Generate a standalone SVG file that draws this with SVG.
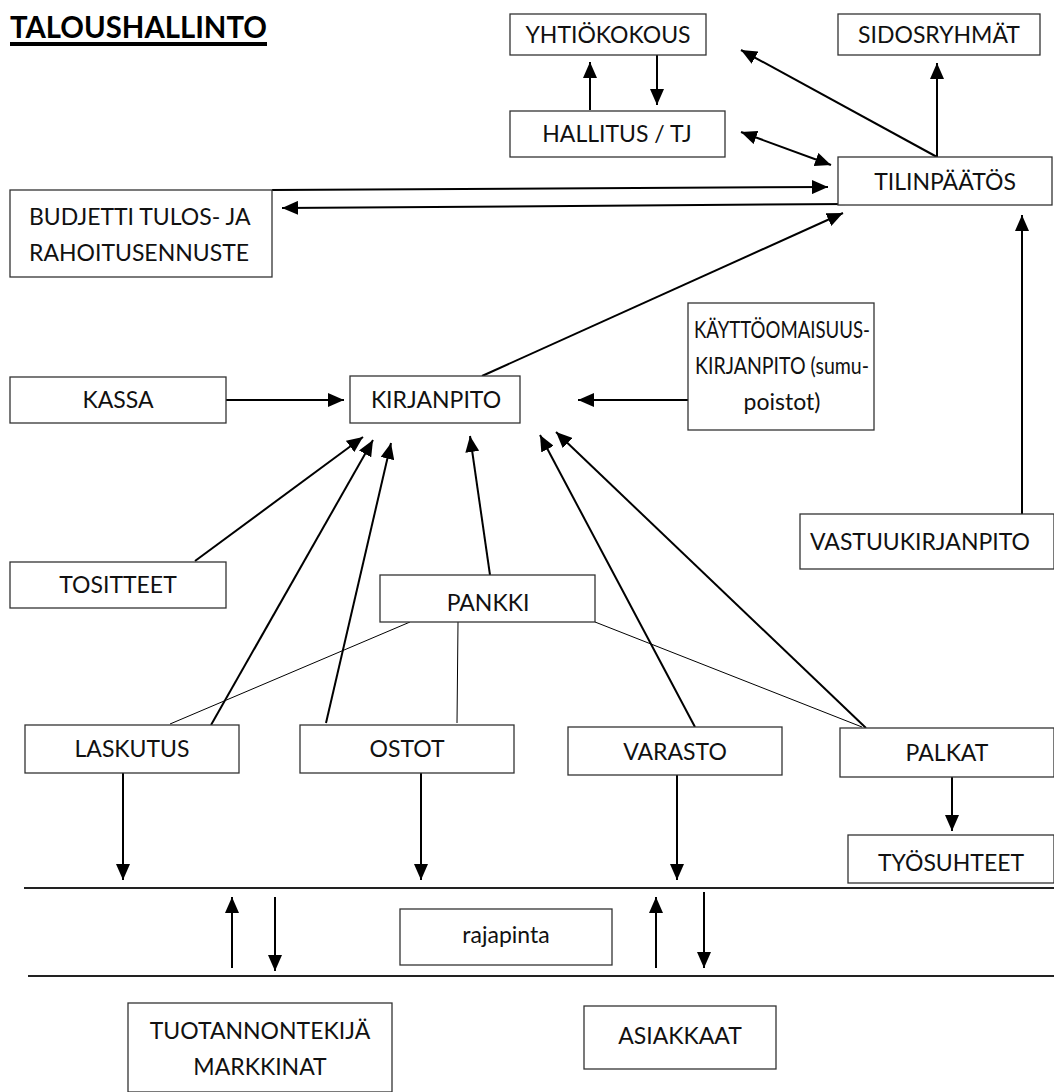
<svg xmlns="http://www.w3.org/2000/svg" width="1054" height="1092" viewBox="0 0 1054 1092">
<style>
.box{fill:#fff;stroke:#333;stroke-width:1.3}
.t{font-family:Lato,"Noto Sans",sans-serif;font-size:23px;fill:#111;text-anchor:middle}
.tl{font-family:Lato,"Noto Sans",sans-serif;font-size:23px;fill:#111}
.a{stroke:#000;stroke-width:2;fill:none;marker-end:url(#ah)}
.ln{stroke:#000;stroke-width:1;fill:none}
.hl{stroke:#222;stroke-width:2;fill:none}
</style>
<defs>
<marker id="ah" markerUnits="userSpaceOnUse" markerWidth="16" markerHeight="14" refX="16" refY="7" orient="auto-start-reverse" viewBox="0 0 16 14">
<path d="M0,0 L16,7 L0,14 Z" fill="#000"/>
</marker>
</defs>
<rect width="1054" height="1092" fill="#fff"/>
<g id="title">
<text x="10" y="38" font-family="Lato,'Noto Sans',sans-serif" font-size="30" font-weight="bold" fill="#000" textLength="257" lengthAdjust="spacingAndGlyphs">TALOUSHALLINTO</text>
<rect x="10" y="42" width="257" height="4" fill="#000"/>
</g>
<g id="connectors">
<line class="a" x1="590" y1="110" x2="590" y2="62"/>
<line class="a" x1="657" y1="55" x2="657" y2="105"/>
<line class="a" x1="937" y1="157" x2="741" y2="50"/>
<line class="a" x1="937" y1="157" x2="937" y2="63"/>
<line class="a" x1="741" y1="132" x2="831" y2="165" marker-start="url(#ah)"/>
<line class="a" x1="272" y1="190" x2="828" y2="187"/>
<line class="a" x1="850" y1="204" x2="282" y2="208"/>
<line class="a" x1="482" y1="376" x2="843" y2="213"/>
<line class="a" x1="1022" y1="514" x2="1022" y2="215"/>
<line class="a" x1="226" y1="400" x2="344" y2="400"/>
<line class="a" x1="688" y1="400" x2="578" y2="400"/>
<line class="a" x1="195" y1="561" x2="363" y2="437"/>
<line class="a" x1="211" y1="725" x2="373" y2="440"/>
<line class="a" x1="326" y1="723" x2="391" y2="443"/>
<line class="a" x1="490" y1="575" x2="470" y2="436"/>
<line class="a" x1="695" y1="727" x2="540" y2="435"/>
<line class="a" x1="866" y1="728" x2="556" y2="432"/>
<line class="ln" x1="410" y1="622" x2="170" y2="724"/>
<line class="ln" x1="458" y1="622" x2="457" y2="723"/>
<line class="ln" x1="595" y1="622" x2="862" y2="727"/>
<line class="a" x1="123" y1="773" x2="123" y2="880"/>
<line class="a" x1="421" y1="773" x2="421" y2="880"/>
<line class="a" x1="677" y1="775" x2="677" y2="880"/>
<line class="a" x1="952" y1="777" x2="952" y2="831"/>
<line class="hl" x1="24" y1="888" x2="1054" y2="888"/>
<line class="hl" x1="28" y1="976" x2="1054" y2="976"/>
<line class="a" x1="232" y1="968" x2="232" y2="897"/>
<line class="a" x1="275" y1="897" x2="275" y2="971"/>
<line class="a" x1="656" y1="968" x2="656" y2="897"/>
<line class="a" x1="704" y1="892" x2="704" y2="968"/>
</g>
<g id="yhtiokokous"><rect class="box" x="510" y="14" width="196" height="41"/><text class="t" x="608" y="43">YHTIÖKOKOUS</text></g>
<g id="sidosryhmat"><rect class="box" x="838" y="14" width="202" height="41"/><text class="t" x="939" y="43">SIDOSRYHMÄT</text></g>
<g id="hallitus"><rect class="box" x="510" y="111" width="215" height="46"/><text class="t" x="617" y="142">HALLITUS / TJ</text></g>
<g id="tilinpaatos"><rect class="box" x="838" y="157" width="214" height="48"/><text class="t" x="945" y="190">TILINPÄÄTÖS</text></g>
<g id="budjetti"><rect class="box" x="10" y="190" width="262" height="87"/><text class="tl" x="29" y="225">BUDJETTI TULOS- JA</text><text class="tl" x="29" y="261">RAHOITUSENNUSTE</text></g>
<g id="kayttoomaisuus"><rect class="box" x="688" y="303" width="186" height="127"/><text class="t" x="782" y="338" font-size="21" textLength="176" lengthAdjust="spacingAndGlyphs">KÄYTTÖOMAISUUS-</text><text class="t" x="782" y="374" font-size="21" textLength="174" lengthAdjust="spacingAndGlyphs">KIRJANPITO (sumu-</text><text class="t" x="782" y="410" font-size="22">poistot)</text></g>
<g id="kassa"><rect class="box" x="10" y="377" width="216" height="46"/><text class="t" x="118" y="408">KASSA</text></g>
<g id="kirjanpito"><rect class="box" x="350" y="376" width="170" height="47"/><text class="t" x="436" y="408">KIRJANPITO</text></g>
<g id="vastuukirjanpito"><rect class="box" x="800" y="514" width="254" height="55"/><text class="t" x="920" y="550">VASTUUKIRJANPITO</text></g>
<g id="tositteet"><rect class="box" x="10" y="562" width="216" height="46"/><text class="t" x="118" y="593">TOSITTEET</text></g>
<g id="pankki"><rect class="box" x="380" y="575" width="215" height="47"/><text class="t" x="488" y="611">PANKKI</text></g>
<g id="laskutus"><rect class="box" x="25" y="725" width="214" height="48"/><text class="t" x="132" y="757">LASKUTUS</text></g>
<g id="ostot"><rect class="box" x="300" y="725" width="214" height="48"/><text class="t" x="407" y="757">OSTOT</text></g>
<g id="varasto"><rect class="box" x="568" y="727" width="214" height="48"/><text class="t" x="675" y="760">VARASTO</text></g>
<g id="palkat"><rect class="box" x="840" y="728" width="214" height="49"/><text class="t" x="947" y="761">PALKAT</text></g>
<g id="tyosuhteet"><rect class="box" x="848" y="835" width="206" height="48"/><text class="t" x="951" y="871">TYÖSUHTEET</text></g>
<g id="rajapinta"><rect class="box" x="400" y="909" width="212" height="56"/><text class="t" x="506" y="943">rajapinta</text></g>
<g id="tuotannontekija"><rect class="box" x="128" y="1003" width="264" height="89"/><text class="t" x="260" y="1039">TUOTANNONTEKIJÄ</text><text class="t" x="260" y="1075">MARKKINAT</text></g>
<g id="asiakkaat"><rect class="box" x="584" y="1006" width="192" height="63"/><text class="t" x="680" y="1044">ASIAKKAAT</text></g>
</svg>
